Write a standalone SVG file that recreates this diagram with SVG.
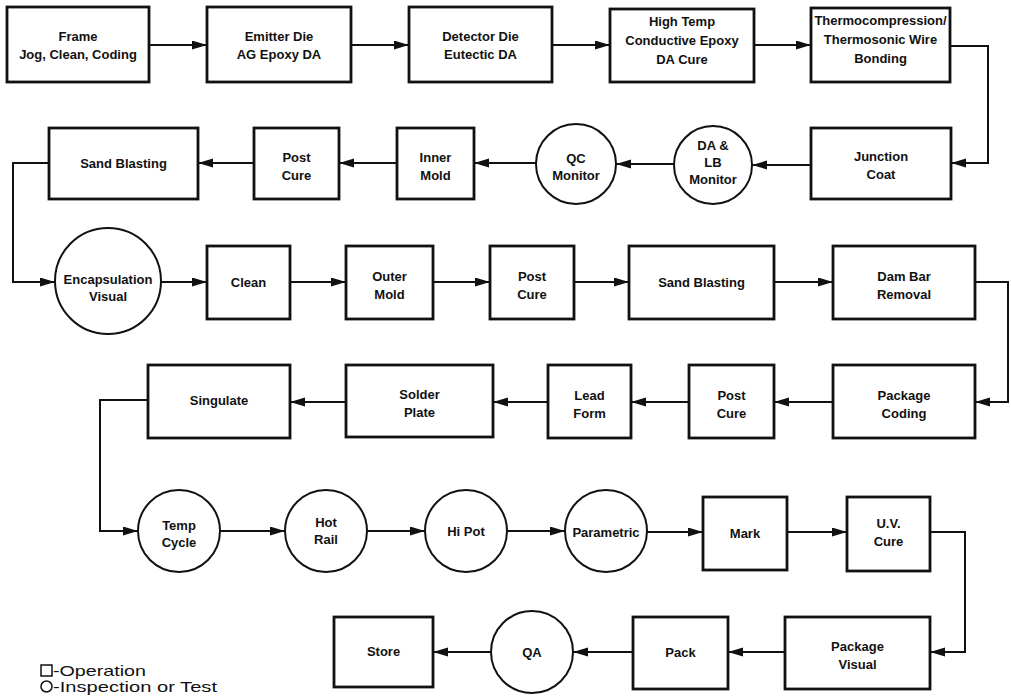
<svg xmlns="http://www.w3.org/2000/svg" width="1011" height="697" viewBox="0 0 1011 697">
<style>
.b{fill:#fff;stroke:#111;stroke-width:2.8}
.c{fill:#fff;stroke:#111;stroke-width:2}
.t{font-family:"Liberation Sans",Arial,sans-serif;font-weight:bold;font-size:13px;fill:#111;text-anchor:middle}
.l{font-family:"Liberation Sans",Arial,sans-serif;font-size:15px;fill:#111}
.e{fill:none;stroke:#111;stroke-width:2;marker-end:url(#ah)}
</style>
<defs>
<marker id="ah" markerUnits="userSpaceOnUse" markerWidth="16" markerHeight="10" refX="15" refY="4.5" orient="auto">
<path d="M0,0 L15,4.5 L0,9 z" fill="#111"/>
</marker>
</defs>
<rect width="1011" height="697" fill="#fff"/>
<g id="connectors">
<path class="e" d="M149,45 H207"/>
<path class="e" d="M351,45 H409"/>
<path class="e" d="M552,45 H610"/>
<path class="e" d="M754,45 H811"/>
<path class="e" d="M950,46 H988 V163 H951"/>
<path class="e" d="M811,165 H752"/>
<path class="e" d="M674,164 H616"/>
<path class="e" d="M536,163 H474"/>
<path class="e" d="M397,163 H339"/>
<path class="e" d="M254,163 H198"/>
<path class="e" d="M49,163 H13 V282 H55"/>
<path class="e" d="M161,282 H207"/>
<path class="e" d="M290,282 H346"/>
<path class="e" d="M433,282 H490"/>
<path class="e" d="M574,282 H629"/>
<path class="e" d="M774,282 H833"/>
<path class="e" d="M975,282 H1008 V402 H975"/>
<path class="e" d="M833,402 H774"/>
<path class="e" d="M689,402 H631"/>
<path class="e" d="M548,402 H493"/>
<path class="e" d="M346,402 H290"/>
<path class="e" d="M148,400 H100 V531 H138"/>
<path class="e" d="M220,531 H285"/>
<path class="e" d="M367,531 H425"/>
<path class="e" d="M507,531 H565"/>
<path class="e" d="M647,532 H703"/>
<path class="e" d="M787,532 H847"/>
<path class="e" d="M930,532 H965 V652 H930"/>
<path class="e" d="M785,652 H728"/>
<path class="e" d="M633,652 H573"/>
<path class="e" d="M491,652 H433"/>
</g>
<g id="n1"><rect class="b" x="7" y="7" width="142" height="75"/><text class="t"><tspan x="78" y="41">Frame</tspan><tspan x="78" y="59">Jog, Clean, Coding</tspan></text></g>
<g id="n2"><rect class="b" x="207" y="7" width="144" height="75"/><text class="t"><tspan x="279" y="41">Emitter Die</tspan><tspan x="279" y="59">AG Epoxy DA</tspan></text></g>
<g id="n3"><rect class="b" x="409" y="7" width="143" height="75"/><text class="t"><tspan x="480.5" y="41">Detector Die</tspan><tspan x="480.5" y="59">Eutectic DA</tspan></text></g>
<g id="n4"><rect class="b" x="610" y="9" width="144" height="73"/><text class="t"><tspan x="682" y="26">High Temp</tspan><tspan x="682" y="45">Conductive Epoxy</tspan><tspan x="682" y="64">DA Cure</tspan></text></g>
<g id="n5"><rect class="b" x="811" y="8" width="139" height="74"/><text class="t"><tspan x="880.5" y="25">Thermocompression/</tspan><tspan x="880.5" y="44">Thermosonic Wire</tspan><tspan x="880.5" y="63">Bonding</tspan></text></g>
<g id="n6"><rect class="b" x="811" y="128" width="140" height="71"/><text class="t"><tspan x="881" y="161">Junction</tspan><tspan x="881" y="179">Coat</tspan></text></g>
<g id="n7"><circle class="c" cx="713" cy="165" r="39"/><text class="t"><tspan x="713" y="150">DA &amp;</tspan><tspan x="713" y="167">LB</tspan><tspan x="713" y="184">Monitor</tspan></text></g>
<g id="n8"><circle class="c" cx="576" cy="164" r="40"/><text class="t"><tspan x="576" y="163">QC</tspan><tspan x="576" y="180">Monitor</tspan></text></g>
<g id="n9"><rect class="b" x="397" y="128" width="77" height="71"/><text class="t"><tspan x="435.5" y="162">Inner</tspan><tspan x="435.5" y="180">Mold</tspan></text></g>
<g id="n10"><rect class="b" x="254" y="128" width="85" height="71"/><text class="t"><tspan x="296.5" y="162">Post</tspan><tspan x="296.5" y="180">Cure</tspan></text></g>
<g id="n11"><rect class="b" x="49" y="128" width="149" height="71"/><text class="t" x="123.5" y="168">Sand Blasting</text></g>
<g id="n12"><circle class="c" cx="108" cy="281" r="53"/><text class="t"><tspan x="108" y="284">Encapsulation</tspan><tspan x="108" y="301">Visual</tspan></text></g>
<g id="n13"><rect class="b" x="207" y="246" width="83" height="73"/><text class="t" x="248.5" y="287">Clean</text></g>
<g id="n14"><rect class="b" x="346" y="246" width="87" height="73"/><text class="t"><tspan x="389.5" y="281">Outer</tspan><tspan x="389.5" y="299">Mold</tspan></text></g>
<g id="n15"><rect class="b" x="490" y="246" width="84" height="73"/><text class="t"><tspan x="532" y="281">Post</tspan><tspan x="532" y="299">Cure</tspan></text></g>
<g id="n16"><rect class="b" x="629" y="246" width="145" height="73"/><text class="t" x="701.5" y="287">Sand Blasting</text></g>
<g id="n17"><rect class="b" x="833" y="246" width="142" height="73"/><text class="t"><tspan x="904" y="281">Dam Bar</tspan><tspan x="904" y="299">Removal</tspan></text></g>
<g id="n18"><rect class="b" x="833" y="365" width="142" height="73"/><text class="t"><tspan x="904" y="400">Package</tspan><tspan x="904" y="418">Coding</tspan></text></g>
<g id="n19"><rect class="b" x="689" y="365" width="85" height="73"/><text class="t"><tspan x="731.5" y="400">Post</tspan><tspan x="731.5" y="418">Cure</tspan></text></g>
<g id="n20"><rect class="b" x="548" y="365" width="83" height="73"/><text class="t"><tspan x="589.5" y="400">Lead</tspan><tspan x="589.5" y="418">Form</tspan></text></g>
<g id="n21"><rect class="b" x="346" y="365" width="147" height="72"/><text class="t"><tspan x="419.5" y="399">Solder</tspan><tspan x="419.5" y="417">Plate</tspan></text></g>
<g id="n22"><rect class="b" x="148" y="365" width="142" height="73"/><text class="t" x="219" y="405">Singulate</text></g>
<g id="n23"><circle class="c" cx="179" cy="531" r="41"/><text class="t"><tspan x="179" y="530">Temp</tspan><tspan x="179" y="547">Cycle</tspan></text></g>
<g id="n24"><circle class="c" cx="326" cy="531" r="41"/><text class="t"><tspan x="326" y="527">Hot</tspan><tspan x="326" y="544">Rail</tspan></text></g>
<g id="n25"><circle class="c" cx="466" cy="531" r="41"/><text class="t" x="466" y="536">Hi Pot</text></g>
<g id="n26"><circle class="c" cx="606" cy="531" r="41"/><text class="t" x="606" y="537">Parametric</text></g>
<g id="n27"><rect class="b" x="703" y="497" width="84" height="73"/><text class="t" x="745" y="538">Mark</text></g>
<g id="n28"><rect class="b" x="847" y="497" width="83" height="74"/><text class="t"><tspan x="888.5" y="528">U.V.</tspan><tspan x="888.5" y="546">Cure</tspan></text></g>
<g id="n29"><rect class="b" x="785" y="617" width="145" height="72"/><text class="t"><tspan x="857.5" y="651">Package</tspan><tspan x="857.5" y="669">Visual</tspan></text></g>
<g id="n30"><rect class="b" x="633" y="617" width="95" height="72"/><text class="t" x="680.5" y="657">Pack</text></g>
<g id="n31"><circle class="c" cx="532" cy="652" r="41"/><text class="t" x="532" y="657">QA</text></g>
<g id="n32"><rect class="b" x="334" y="617" width="99" height="70"/><text class="t" x="383.5" y="656">Store</text></g>
<g id="legend">
<rect x="41" y="665" width="11" height="11" fill="none" stroke="#111" stroke-width="1.5"/>
<text class="l" x="53" y="676" textLength="93" lengthAdjust="spacingAndGlyphs">-Operation</text>
<circle cx="46.5" cy="686.5" r="5.5" fill="none" stroke="#111" stroke-width="1.5"/>
<text class="l" x="53" y="692" textLength="164" lengthAdjust="spacingAndGlyphs">-Inspection or Test</text>
</g>
</svg>
